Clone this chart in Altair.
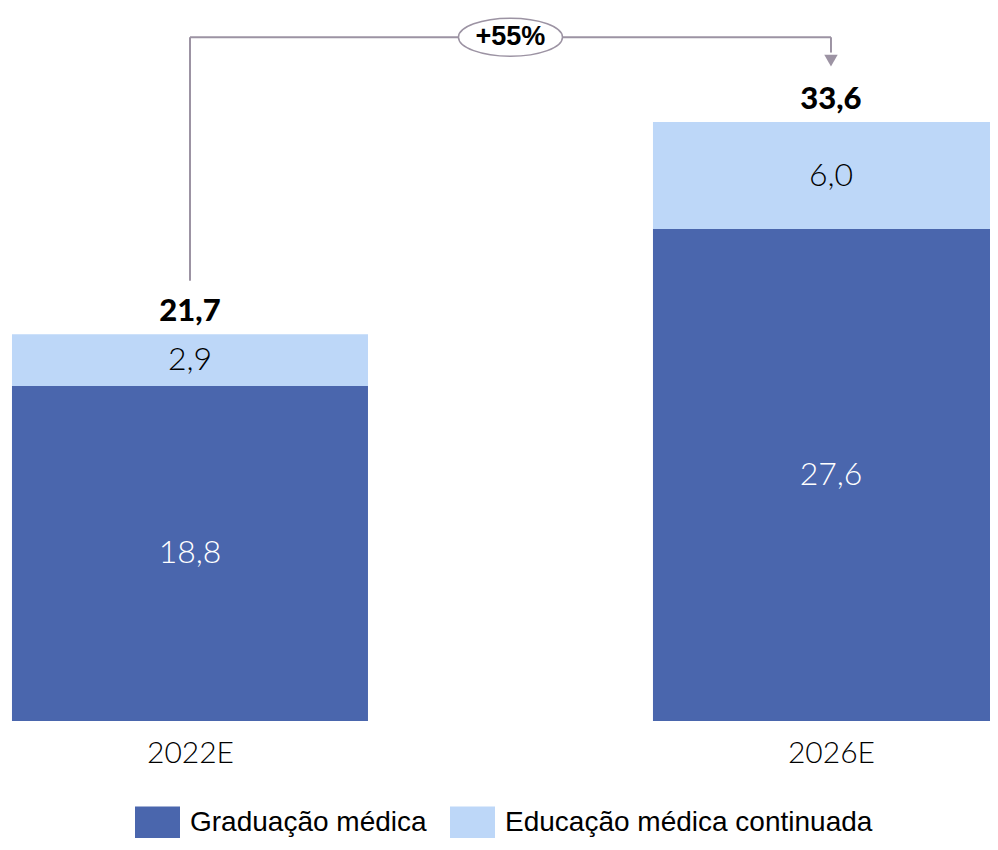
import altair as alt
import pandas as pd

# ---- data ----
years = ["2022E", "2026E"]
series = ["Graduação médica", "Educação médica continuada"]
graduacao = [18.8, 27.6]
educacao = [2.9, 6.0]
totals = [21.7, 33.6]
growth_label = "+55%"

colors = ["#4A66AD", "#BDD7F8"]
line_color = "#9C93A3"

def fmt(v):
    return f"{v:.1f}".replace(".", ",")

rows = []
for i, yr in enumerate(years):
    for j, vals in enumerate([graduacao, educacao]):
        rows.append({"year": yr, "pos": i, "series": series[j], "ord": j,
                     "value": vals[i], "label": fmt(vals[i])})
df = pd.DataFrame(rows)

tot_df = pd.DataFrame({"pos": list(range(len(years))), "total": totals,
                       "label": [fmt(t) for t in totals]})

# annotation levels (data units)
gap = 3.0
bracket_top = 38.36
bracket_df = pd.DataFrame([
    {"x": 0, "x2": 0, "y": totals[0] + gap, "y2": bracket_top},
    {"x": 0, "x2": 1, "y": bracket_top, "y2": bracket_top},
    {"x": 1, "x2": 1, "y": bracket_top, "y2": totals[1] + gap + 0.9},
])
arrow_df = pd.DataFrame([{"x": 1, "y": totals[1] + gap + 0.45}])
growth_df = pd.DataFrame([{"x": 0.5, "y": bracket_top, "label": growth_label}])

xscale = alt.Scale(domain=[-0.2839, 1.2481], nice=False, zero=False, padding=0)
yscale = alt.Scale(domain=[0, 40], nice=False, zero=True, padding=0)

label_expr = "[" + ",".join(f"'{y}'" for y in years) + "][datum.value]"

base = alt.Chart(df)

bars = base.mark_bar(width=356, clip=True, orient="vertical").encode(
    x=alt.X("pos:Q", scale=xscale, title=None,
            axis=alt.Axis(values=list(range(len(years))), labelExpr=label_expr,
                          domain=False, ticks=False, grid=False,
                          labelFont="Lato", labelFontWeight=300, labelFontSize=30,
                          labelColor="#000000", labelPadding=17)),
    y=alt.Y("value:Q", stack="zero", scale=yscale, axis=None),
    color=alt.Color("series:N", scale=alt.Scale(domain=series, range=colors),
                    legend=alt.Legend(title=None, orient="none", legendX=127, legendY=792,
                                      direction="horizontal",
                                      symbolType="M-1,-0.72H1V0.72H-1Z", symbolSize=2025,
                                      symbolStrokeWidth=0, symbolOpacity=1,
                                      labelFont="Liberation Sans", labelFontSize=28,
                                      labelColor="#000000", labelOffset=10,
                                      columnPadding=23, padding=0, labelLimit=600)),
    order=alt.Order("ord:Q", sort="ascending"),
)

seg_text = base.transform_stack(
    stack="value", groupby=["year"], as_=["v0", "v1"],
    sort=[alt.SortField("ord", order="ascending")]
).transform_calculate(mid="(datum.v0 + datum.v1) / 2").mark_text(
    font="Lato", fontWeight=300, fontSize=32, baseline="middle", align="center"
).encode(
    x=alt.X("pos:Q", scale=xscale),
    y=alt.Y("mid:Q", scale=yscale),
    text="label:N",
    color=alt.condition(alt.datum.ord == 0, alt.value("#FFFFFF"), alt.value("#000000")),
)

tot_text = alt.Chart(tot_df).mark_text(
    font="Lato", fontWeight=900, fontSize=31, baseline="alphabetic", align="center",
    dy=-13, color="#000000"
).encode(
    x=alt.X("pos:Q", scale=xscale),
    y=alt.Y("total:Q", scale=yscale),
    text="label:N",
)

rules = alt.Chart(bracket_df).mark_rule(color=line_color, strokeWidth=2).encode(
    x=alt.X("x:Q", scale=xscale), x2="x2:Q",
    y=alt.Y("y:Q", scale=yscale), y2="y2:Q",
)

arrow = alt.Chart(arrow_df).mark_point(
    shape="triangle-down", filled=True, size=180, color=line_color, opacity=1
).encode(x=alt.X("x:Q", scale=xscale), y=alt.Y("y:Q", scale=yscale))

ellipse = alt.Chart(growth_df).mark_point(
    shape="M-1,0A1,0.365 0 1,1 1,0A1,0.365 0 1,1 -1,0Z", size=10816,
    filled=True, fill="#FFFFFF", stroke=line_color, strokeWidth=1.5,
    fillOpacity=1, strokeOpacity=1
).encode(x=alt.X("x:Q", scale=xscale), y=alt.Y("y:Q", scale=yscale))

growth_text = alt.Chart(growth_df).mark_text(
    font="Liberation Sans", fontWeight="bold", fontSize=27, baseline="middle",
    align="center", color="#000000"
).encode(x=alt.X("x:Q", scale=xscale), y=alt.Y("y:Q", scale=yscale), text="label:N")

chart = alt.layer(bars, seg_text, tot_text, rules, arrow, ellipse, growth_text).properties(
    width=982, height=713,
    autosize=alt.AutoSizeParams(type="none"),
    padding={"left": 0, "top": 0, "right": 0, "bottom": 117},
    background="#FFFFFF",
).configure_view(strokeWidth=0)

chart.save("out.html", embed_options={"renderer": "svg", "actions": False})
